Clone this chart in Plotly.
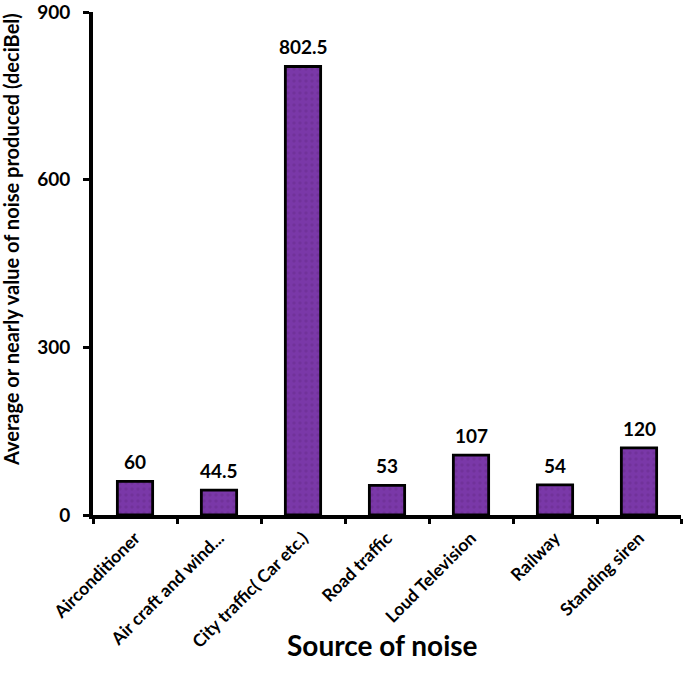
import plotly.graph_objects as go

categories = ["Airconditioner", "Air craft and wind...", "City traffic( Car etc.)",
              "Road traffic", "Loud Television", "Railway", "Standing siren"]
values = [60, 44.5, 802.5, 53, 107, 54, 120]
value_labels = ["60", "44.5", "802.5", "53", "107", "54", "120"]
y_ticks = [0, 300, 600, 900]

FONT = "Lato"
W, H = 684, 676
ML, MR, MT, MB = 93, 3, 12, 161

fig = go.Figure(go.Bar(
    x=categories, y=values,
    marker=dict(color="#7634a3", line=dict(color="black", width=2.8),
                pattern=dict(shape=".", fgcolor="#682b8c", bgcolor="#7a38a8",
                             size=6, solidity=0.25)),
    cliponaxis=False,
))

# value labels above bars
for c, v, t in zip(categories, values, value_labels):
    fig.add_annotation(
        x=c, y=v, text=t, showarrow=False,
        xanchor="center", yanchor="bottom", yshift=6,
        font=dict(family=FONT, size=19, color="black", weight="bold"),
    )

fig.update_layout(
    width=W, height=H,
    margin=dict(l=ML, r=MR, t=MT, b=MB, autoexpand=False),
    plot_bgcolor="white", paper_bgcolor="white",
    bargap=0.58,
    showlegend=False,
    font=dict(family=FONT, color="black"),
)
fig.update_yaxes(
    range=[0, 900], tickvals=y_ticks,
    showline=True, linecolor="black", linewidth=4,
    ticks="outside", ticklen=6, tickwidth=3, tickcolor="black",
    showgrid=False, zeroline=False,
    ticklabeloverflow="allow", automargin=False,
    ticklabelstandoff=9,
    tickfont=dict(family=FONT, size=19, color="black", weight="bold"),
)
fig.update_xaxes(
    showline=True, linecolor="black", linewidth=4,
    ticks="outside", ticklen=5, tickwidth=3, tickcolor="black",
    tickson="boundaries", automargin=False,
    tickangle=-45, ticklabelstandoff=2,
    tickfont=dict(family=FONT, size=17.5, color="black", weight="bold"),
)

# axis titles
fig.add_annotation(
    text="Average or nearly value of noise produced (deciBel)",
    xref="paper", yref="paper",
    x=(11 - ML) / (W - ML - MR), y=1 - (240 - MT) / (H - MT - MB),
    xanchor="center", yanchor="middle", textangle=-90, showarrow=False,
    font=dict(family=FONT, size=20, color="black", weight="bold"),
)
fig.add_annotation(
    text="Source of noise",
    xref="paper", yref="paper",
    x=(382 - ML) / (W - ML - MR), y=-(645 - (H - MB)) / (H - MT - MB),
    xanchor="center", yanchor="middle", showarrow=False,
    font=dict(family=FONT, size=28, color="black", weight="bold"),
)

fig.write_html(
    "out.html",
    config={"displayModeBar": False},
    post_script="document.body.style.margin='0';document.body.style.padding='0';",
)
